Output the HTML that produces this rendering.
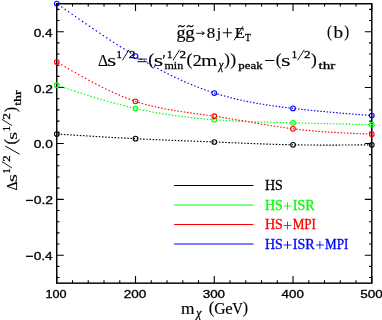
<!DOCTYPE html>
<html><head><meta charset="utf-8"><title>plot</title>
<style>html,body{margin:0;padding:0;background:#fff;overflow:hidden;}svg{display:block;will-change:transform;}text{font-family:"Liberation Serif", serif;fill:#000;stroke:#000;stroke-width:0.15px;}.s{stroke-width:0.08px;}.t{font-family:"Liberation Sans", sans-serif;stroke-width:0.32px;}.b{stroke-width:0.28px;}.i{font-style:italic;stroke-width:0.3px;}.l{stroke-width:0.3px;}</style></head>
<body>
<svg width="382" height="320" viewBox="0 0 382 320">
<rect x="0" y="0" width="382" height="320" fill="#ffffff"/>
<rect x="56.75" y="3.75" width="315.05" height="279.40" fill="none" stroke="#000" stroke-width="1.45"/>
<path d="M56.75 283.1 v-7.2 M56.75 3.8 v7.2 M72.50 283.1 v-2.8 M72.50 3.8 v2.8 M88.25 283.1 v-2.8 M88.25 3.8 v2.8 M104.01 283.1 v-2.8 M104.01 3.8 v2.8 M119.76 283.1 v-2.8 M119.76 3.8 v2.8 M135.51 283.1 v-7.2 M135.51 3.8 v7.2 M151.26 283.1 v-2.8 M151.26 3.8 v2.8 M167.02 283.1 v-2.8 M167.02 3.8 v2.8 M182.77 283.1 v-2.8 M182.77 3.8 v2.8 M198.52 283.1 v-2.8 M198.52 3.8 v2.8 M214.28 283.1 v-7.2 M214.28 3.8 v7.2 M230.03 283.1 v-2.8 M230.03 3.8 v2.8 M245.78 283.1 v-2.8 M245.78 3.8 v2.8 M261.53 283.1 v-2.8 M261.53 3.8 v2.8 M277.28 283.1 v-2.8 M277.28 3.8 v2.8 M293.04 283.1 v-7.2 M293.04 3.8 v7.2 M308.79 283.1 v-2.8 M308.79 3.8 v2.8 M324.54 283.1 v-2.8 M324.54 3.8 v2.8 M340.30 283.1 v-2.8 M340.30 3.8 v2.8 M356.05 283.1 v-2.8 M356.05 3.8 v2.8 M371.80 283.1 v-7.2 M371.80 3.8 v7.2 M56.8 277.56 h2.7 M371.8 277.56 h-2.7 M56.8 266.39 h2.7 M371.8 266.39 h-2.7 M56.8 255.21 h7.0 M371.8 255.21 h-7.0 M56.8 244.03 h2.7 M371.8 244.03 h-2.7 M56.8 232.86 h2.7 M371.8 232.86 h-2.7 M56.8 221.68 h2.7 M371.8 221.68 h-2.7 M56.8 210.51 h2.7 M371.8 210.51 h-2.7 M56.8 199.33 h7.0 M371.8 199.33 h-7.0 M56.8 188.15 h2.7 M371.8 188.15 h-2.7 M56.8 176.98 h2.7 M371.8 176.98 h-2.7 M56.8 165.80 h2.7 M371.8 165.80 h-2.7 M56.8 154.63 h2.7 M371.8 154.63 h-2.7 M56.8 143.45 h7.0 M371.8 143.45 h-7.0 M56.8 132.27 h2.7 M371.8 132.27 h-2.7 M56.8 121.10 h2.7 M371.8 121.10 h-2.7 M56.8 109.92 h2.7 M371.8 109.92 h-2.7 M56.8 98.75 h2.7 M371.8 98.75 h-2.7 M56.8 87.57 h7.0 M371.8 87.57 h-7.0 M56.8 76.39 h2.7 M371.8 76.39 h-2.7 M56.8 65.22 h2.7 M371.8 65.22 h-2.7 M56.8 54.04 h2.7 M371.8 54.04 h-2.7 M56.8 42.87 h2.7 M371.8 42.87 h-2.7 M56.8 31.69 h7.0 M371.8 31.69 h-7.0 M56.8 20.51 h2.7 M371.8 20.51 h-2.7 M56.8 9.34 h2.7 M371.8 9.34 h-2.7" stroke="#000" stroke-width="1.1" fill="none"/>
<path d="M57.60 134.06 L59.10 134.15 M60.77 134.26 L62.27 134.36 M63.94 134.46 L65.44 134.56 M67.11 134.67 L68.61 134.76 M70.28 134.87 L71.78 134.97 M73.45 135.08 L74.95 135.17 M76.62 135.28 L78.12 135.37 M79.79 135.48 L81.28 135.57 M82.96 135.68 L84.45 135.77 M86.13 135.88 L87.62 135.97 M89.29 136.08 L90.79 136.17 M92.46 136.27 L93.96 136.36 M95.63 136.47 L97.13 136.56 M98.80 136.66 L100.30 136.75 M101.97 136.85 L103.46 136.94 M105.13 137.04 L106.63 137.12 M108.30 137.22 L109.80 137.31 M111.47 137.41 L112.96 137.49 M114.63 137.59 L116.13 137.67 M117.80 137.76 L119.30 137.85 M120.96 137.94 L122.46 138.02 M124.13 138.11 L125.63 138.19 M127.29 138.28 L128.79 138.36 M130.46 138.44 L131.96 138.52 M133.62 138.61 L135.12 138.68 M136.78 138.76 L138.28 138.84 M139.95 138.92 L141.44 138.99 M143.11 139.07 L144.61 139.14 M146.27 139.22 L147.77 139.28 M149.43 139.36 L150.93 139.43 M152.59 139.50 L154.09 139.57 M155.75 139.64 L157.25 139.70 M158.91 139.78 L160.41 139.84 M162.07 139.91 L163.57 139.97 M165.23 140.04 L166.73 140.10 M168.39 140.17 L169.89 140.23 M171.55 140.30 L173.05 140.36 M174.71 140.43 L176.21 140.49 M177.86 140.56 L179.36 140.62 M181.02 140.68 L182.52 140.74 M184.18 140.81 L185.68 140.87 M187.34 140.93 L188.84 140.99 M190.50 141.05 L192.00 141.11 M193.66 141.18 L195.15 141.24 M196.81 141.30 L198.31 141.36 M199.97 141.43 L201.47 141.49 M203.13 141.55 L204.63 141.61 M206.29 141.68 L207.79 141.74 M209.45 141.80 L210.94 141.86 M212.60 141.93 L214.10 141.99 M215.76 142.06 L217.26 142.12 M218.92 142.19 L220.42 142.25 M222.08 142.32 L223.58 142.39 M225.24 142.46 L226.74 142.52 M228.40 142.59 L229.90 142.65 M231.56 142.72 L233.06 142.78 M234.72 142.85 L236.22 142.92 M237.88 142.98 L239.38 143.05 M241.04 143.12 L242.53 143.18 M244.19 143.24 L245.69 143.30 M247.35 143.37 L248.85 143.43 M250.51 143.50 L252.01 143.55 M253.67 143.62 L255.17 143.68 M256.83 143.74 L258.33 143.79 M259.98 143.86 L261.48 143.91 M263.14 143.97 L264.64 144.02 M266.30 144.08 L267.80 144.13 M269.45 144.18 L270.95 144.23 M272.61 144.28 L274.11 144.33 M275.76 144.38 L277.26 144.42 M278.91 144.47 L280.41 144.51 M282.07 144.55 L283.57 144.59 M285.22 144.63 L286.72 144.67 M288.37 144.70 L289.87 144.74 M291.52 144.77 L293.02 144.80 M294.67 144.83 L296.17 144.86 M297.82 144.88 L299.32 144.90 M300.96 144.93 L302.46 144.95 M304.11 144.97 L305.61 144.98 M307.25 145.00 L308.75 145.01 M310.40 145.03 L311.90 145.04 M313.54 145.05 L315.04 145.06 M316.68 145.06 L318.18 145.07 M319.82 145.08 L321.32 145.08 M322.97 145.08 L324.47 145.08 M326.11 145.08 L327.61 145.08 M329.25 145.08 L330.75 145.08 M332.39 145.08 L333.89 145.07 M335.53 145.07 L337.03 145.06 M338.67 145.06 L340.17 145.05 M341.81 145.04 L343.31 145.03 M344.95 145.02 L346.45 145.01 M348.10 145.00 L349.60 144.99 M351.24 144.98 L352.74 144.97 M354.38 144.96 L355.88 144.94 M357.53 144.93 L359.03 144.92 M360.67 144.90 L362.17 144.89 M363.82 144.87 L365.32 144.86 M366.96 144.85 L368.46 144.83 M370.10 144.82 L371.60 144.80" fill="none" stroke="#000000" stroke-width="1.15"/>
<circle cx="56.8" cy="134.0" r="2.35" fill="none" stroke="#000000" stroke-width="1.05"/>
<circle cx="135.5" cy="138.7" r="2.35" fill="none" stroke="#000000" stroke-width="1.05"/>
<circle cx="214.3" cy="142.0" r="2.35" fill="none" stroke="#000000" stroke-width="1.05"/>
<circle cx="293.0" cy="144.8" r="2.35" fill="none" stroke="#000000" stroke-width="1.05"/>
<circle cx="371.8" cy="144.8" r="2.35" fill="none" stroke="#000000" stroke-width="1.05"/>
<path d="M57.64 85.49 L59.06 85.96 M60.93 86.58 L62.35 87.05 M64.22 87.66 L65.64 88.13 M67.51 88.74 L68.94 89.21 M70.80 89.82 L72.23 90.29 M74.09 90.89 L75.52 91.35 M77.38 91.96 L78.81 92.42 M80.66 93.01 L82.09 93.47 M83.95 94.06 L85.38 94.52 M87.24 95.10 L88.67 95.55 M90.52 96.13 L91.95 96.57 M93.80 97.14 L95.23 97.58 M97.08 98.14 L98.52 98.58 M100.36 99.13 L101.79 99.56 M103.63 100.10 L105.07 100.52 M106.91 101.05 L108.35 101.47 M110.18 101.99 L111.62 102.39 M113.44 102.90 L114.89 103.30 M116.71 103.80 L118.16 104.19 M119.97 104.67 L121.42 105.05 M123.23 105.52 L124.68 105.89 M126.49 106.34 L127.94 106.71 M129.74 107.14 L131.20 107.49 M132.99 107.92 L134.45 108.26 M136.23 108.66 L137.70 108.99 M139.47 109.38 L140.94 109.70 M142.71 110.07 L144.18 110.38 M145.95 110.74 L147.42 111.03 M149.18 111.38 L150.65 111.66 M152.40 111.99 L153.88 112.26 M155.63 112.58 L157.10 112.84 M158.85 113.14 L160.33 113.39 M162.06 113.68 L163.54 113.92 M165.28 114.20 L166.76 114.43 M168.49 114.69 L169.97 114.92 M171.70 115.17 L173.18 115.38 M174.90 115.62 L176.39 115.82 M178.10 116.05 L179.59 116.25 M181.30 116.46 L182.79 116.65 M184.50 116.86 L185.99 117.03 M187.69 117.23 L189.18 117.40 M190.88 117.59 L192.38 117.75 M194.07 117.92 L195.57 118.08 M197.26 118.25 L198.75 118.39 M200.44 118.55 L201.94 118.69 M203.63 118.84 L205.12 118.97 M206.81 119.11 L208.30 119.24 M209.98 119.37 L211.48 119.49 M213.16 119.62 L214.65 119.73 M216.33 119.85 L217.83 119.95 M219.50 120.07 L221.00 120.17 M222.67 120.27 L224.17 120.37 M225.84 120.47 L227.34 120.55 M229.01 120.65 L230.51 120.73 M232.17 120.82 L233.67 120.90 M235.34 120.98 L236.84 121.06 M238.50 121.13 L240.00 121.20 M241.66 121.28 L243.16 121.34 M244.82 121.41 L246.32 121.47 M247.98 121.54 L249.48 121.59 M251.14 121.66 L252.64 121.71 M254.29 121.77 L255.79 121.82 M257.45 121.87 L258.95 121.92 M260.60 121.97 L262.10 122.02 M263.76 122.07 L265.26 122.11 M266.91 122.16 L268.41 122.20 M270.06 122.25 L271.56 122.29 M273.22 122.33 L274.72 122.37 M276.37 122.41 L277.87 122.44 M279.52 122.48 L281.02 122.52 M282.67 122.56 L284.17 122.59 M285.82 122.63 L287.32 122.67 M288.97 122.71 L290.47 122.74 M292.12 122.78 L293.62 122.81 M295.27 122.85 L296.77 122.89 M298.42 122.92 L299.92 122.96 M301.57 123.00 L303.07 123.03 M304.72 123.07 L306.22 123.11 M307.87 123.15 L309.37 123.18 M311.03 123.22 L312.53 123.26 M314.18 123.30 L315.68 123.33 M317.33 123.37 L318.83 123.41 M320.48 123.45 L321.98 123.48 M323.63 123.52 L325.13 123.56 M326.78 123.60 L328.28 123.63 M329.93 123.67 L331.43 123.71 M333.08 123.75 L334.58 123.79 M336.23 123.83 L337.73 123.86 M339.39 123.90 L340.88 123.94 M342.54 123.98 L344.04 124.02 M345.69 124.06 L347.19 124.09 M348.84 124.14 L350.34 124.17 M351.99 124.21 L353.49 124.25 M355.14 124.29 L356.64 124.33 M358.29 124.37 L359.79 124.40 M361.44 124.44 L362.94 124.48 M364.59 124.52 L366.09 124.56 M367.75 124.60 L369.25 124.64 M370.90 124.68 L372.40 124.71" fill="none" stroke="#00ff00" stroke-width="1.15"/>
<circle cx="56.8" cy="85.2" r="2.35" fill="none" stroke="#00ff00" stroke-width="1.05"/>
<circle cx="135.5" cy="108.5" r="2.35" fill="none" stroke="#00ff00" stroke-width="1.05"/>
<circle cx="214.3" cy="119.7" r="2.35" fill="none" stroke="#00ff00" stroke-width="1.05"/>
<circle cx="293.0" cy="122.8" r="2.35" fill="none" stroke="#00ff00" stroke-width="1.05"/>
<circle cx="371.8" cy="124.7" r="2.35" fill="none" stroke="#00ff00" stroke-width="1.05"/>
<path d="M57.70 62.55 L59.00 63.31 M61.11 64.53 L62.41 65.29 M64.51 66.51 L65.81 67.26 M67.92 68.48 L69.22 69.22 M71.32 70.43 L72.62 71.18 M74.72 72.37 L76.03 73.11 M78.12 74.30 L79.43 75.03 M81.52 76.20 L82.83 76.93 M84.91 78.08 L86.22 78.80 M88.30 79.93 L89.62 80.64 M91.68 81.75 L93.01 82.45 M95.06 83.53 L96.39 84.22 M98.44 85.28 L99.78 85.96 M101.81 86.99 L103.15 87.65 M105.17 88.65 L106.52 89.30 M108.53 90.27 L109.89 90.91 M111.89 91.83 L113.25 92.46 M115.23 93.35 L116.60 93.95 M118.57 94.81 L119.95 95.39 M121.90 96.21 L123.29 96.77 M125.22 97.55 L126.62 98.09 M128.54 98.82 L129.94 99.35 M131.84 100.03 L133.26 100.53 M135.14 101.18 L136.56 101.65 M138.43 102.25 L139.86 102.70 M141.71 103.25 L143.15 103.68 M144.98 104.19 L146.43 104.59 M148.24 105.08 L149.69 105.45 M151.50 105.90 L152.96 106.26 M154.75 106.68 L156.21 107.01 M157.99 107.41 L159.46 107.72 M161.23 108.09 L162.70 108.39 M164.46 108.73 L165.93 109.02 M167.68 109.34 L169.16 109.61 M170.91 109.92 L172.38 110.17 M174.12 110.46 L175.60 110.70 M177.34 110.98 L178.82 111.21 M180.55 111.48 L182.03 111.70 M183.76 111.96 L185.24 112.17 M186.96 112.42 L188.45 112.63 M190.17 112.87 L191.65 113.07 M193.37 113.31 L194.86 113.51 M196.57 113.74 L198.06 113.94 M199.77 114.18 L201.26 114.38 M202.98 114.61 L204.46 114.81 M206.18 115.05 L207.67 115.26 M209.38 115.50 L210.87 115.71 M212.59 115.95 L214.07 116.17 M215.80 116.43 L217.28 116.65 M219.01 116.91 L220.49 117.14 M222.22 117.41 L223.70 117.65 M225.43 117.93 L226.91 118.17 M228.65 118.45 L230.13 118.70 M231.86 118.99 L233.34 119.24 M235.08 119.53 L236.56 119.78 M238.30 120.08 L239.77 120.33 M241.51 120.63 L242.99 120.88 M244.73 121.18 L246.21 121.44 M247.95 121.74 L249.43 122.00 M251.17 122.30 L252.65 122.55 M254.39 122.85 L255.87 123.11 M257.61 123.40 L259.09 123.65 M260.83 123.95 L262.31 124.20 M264.04 124.49 L265.52 124.73 M267.26 125.02 L268.74 125.26 M270.47 125.54 L271.96 125.78 M273.69 126.05 L275.17 126.28 M276.90 126.55 L278.38 126.77 M280.11 127.03 L281.59 127.25 M283.31 127.50 L284.80 127.71 M286.52 127.95 L288.00 128.15 M289.72 128.38 L291.21 128.57 M292.92 128.79 L294.41 128.97 M296.11 129.17 L297.60 129.35 M299.31 129.54 L300.80 129.70 M302.50 129.89 L303.99 130.04 M305.68 130.21 L307.18 130.36 M308.87 130.52 L310.36 130.66 M312.05 130.81 L313.55 130.94 M315.23 131.09 L316.73 131.21 M318.41 131.35 L319.90 131.46 M321.58 131.59 L323.08 131.70 M324.76 131.82 L326.25 131.92 M327.93 132.04 L329.43 132.14 M331.10 132.24 L332.60 132.34 M334.27 132.44 L335.77 132.53 M337.44 132.62 L338.93 132.71 M340.60 132.80 L342.10 132.88 M343.77 132.96 L345.26 133.04 M346.93 133.12 L348.43 133.19 M350.09 133.27 L351.59 133.34 M353.25 133.42 L354.75 133.49 M356.41 133.56 L357.91 133.62 M359.57 133.70 L361.07 133.76 M362.73 133.83 L364.23 133.89 M365.89 133.96 L367.39 134.02 M369.05 134.09 L370.55 134.15" fill="none" stroke="#ff0000" stroke-width="1.15"/>
<circle cx="56.8" cy="62.0" r="2.35" fill="none" stroke="#ff0000" stroke-width="1.05"/>
<circle cx="135.5" cy="101.3" r="2.35" fill="none" stroke="#ff0000" stroke-width="1.05"/>
<circle cx="214.3" cy="116.2" r="2.35" fill="none" stroke="#ff0000" stroke-width="1.05"/>
<circle cx="293.0" cy="128.8" r="2.35" fill="none" stroke="#ff0000" stroke-width="1.05"/>
<circle cx="371.8" cy="134.2" r="2.35" fill="none" stroke="#ff0000" stroke-width="1.05"/>
<path d="M57.74 4.19 L58.96 5.05 M61.20 6.62 L62.43 7.48 M64.66 9.05 L65.89 9.91 M68.12 11.47 L69.35 12.33 M71.58 13.88 L72.81 14.74 M75.04 16.30 L76.27 17.15 M78.50 18.70 L79.73 19.55 M81.95 21.09 L83.19 21.94 M85.41 23.47 L86.64 24.32 M88.86 25.84 L90.10 26.69 M92.31 28.20 L93.56 29.04 M95.76 30.54 L97.01 31.38 M99.21 32.86 L100.46 33.69 M102.66 35.16 L103.91 35.99 M106.10 37.44 L107.35 38.27 M109.54 39.71 L110.80 40.53 M112.98 41.95 L114.24 42.76 M116.41 44.16 L117.68 44.97 M119.85 46.35 L121.11 47.15 M123.27 48.51 L124.54 49.30 M126.70 50.64 L127.97 51.43 M130.12 52.74 L131.40 53.52 M133.53 54.82 L134.82 55.59 M136.95 56.85 L138.24 57.62 M140.36 58.86 L141.65 59.61 M143.76 60.83 L145.06 61.57 M147.16 62.76 L148.47 63.50 M150.55 64.66 L151.87 65.39 M153.94 66.52 L155.26 67.24 M157.33 68.35 L158.65 69.05 M160.71 70.13 L162.04 70.82 M164.09 71.88 L165.42 72.56 M167.46 73.58 L168.80 74.25 M170.82 75.25 L172.17 75.91 M174.18 76.87 L175.54 77.52 M177.54 78.46 L178.90 79.09 M180.89 80.00 L182.25 80.61 M184.23 81.49 L185.60 82.10 M187.57 82.95 L188.95 83.54 M190.90 84.36 L192.29 84.93 M194.23 85.72 L195.62 86.28 M197.55 87.04 L198.95 87.58 M200.86 88.31 L202.27 88.84 M204.17 89.54 L205.58 90.05 M207.47 90.72 L208.89 91.21 M210.77 91.85 L212.19 92.32 M214.06 92.93 L215.49 93.39 M217.34 93.97 L218.78 94.40 M220.62 94.95 L222.06 95.37 M223.89 95.89 L225.33 96.30 M227.16 96.79 L228.60 97.18 M230.42 97.65 L231.87 98.02 M233.67 98.47 L235.13 98.82 M236.92 99.24 L238.38 99.58 M240.16 99.99 L241.63 100.31 M243.40 100.69 L244.87 101.00 M246.64 101.37 L248.11 101.67 M249.87 102.01 L251.34 102.30 M253.10 102.63 L254.57 102.90 M256.32 103.21 L257.80 103.47 M259.54 103.77 L261.02 104.02 M262.76 104.30 L264.24 104.54 M265.97 104.81 L267.45 105.04 M269.18 105.30 L270.66 105.52 M272.39 105.77 L273.87 105.98 M275.59 106.22 L277.08 106.42 M278.79 106.65 L280.28 106.84 M281.99 107.06 L283.48 107.25 M285.19 107.47 L286.68 107.65 M288.38 107.85 L289.87 108.03 M291.58 108.23 L293.07 108.40 M294.77 108.60 L296.26 108.77 M297.96 108.96 L299.45 109.12 M301.15 109.31 L302.64 109.47 M304.34 109.65 L305.83 109.80 M307.53 109.98 L309.02 110.13 M310.72 110.30 L312.21 110.45 M313.90 110.62 L315.40 110.77 M317.09 110.93 L318.58 111.08 M320.27 111.24 L321.77 111.38 M323.46 111.54 L324.95 111.67 M326.64 111.83 L328.13 111.97 M329.82 112.12 L331.31 112.25 M333.00 112.40 L334.49 112.53 M336.18 112.68 L337.67 112.81 M339.36 112.95 L340.85 113.08 M342.54 113.22 L344.03 113.35 M345.72 113.49 L347.21 113.61 M348.90 113.75 L350.39 113.88 M352.07 114.02 L353.57 114.14 M355.25 114.27 L356.75 114.40 M358.43 114.53 L359.92 114.65 M361.60 114.79 L363.10 114.91 M364.78 115.04 L366.28 115.16 M367.96 115.29 L369.45 115.41" fill="none" stroke="#0000ff" stroke-width="1.15"/>
<circle cx="56.8" cy="3.5" r="2.35" fill="none" stroke="#0000ff" stroke-width="1.05"/>
<circle cx="135.5" cy="56.0" r="2.35" fill="none" stroke="#0000ff" stroke-width="1.05"/>
<circle cx="214.3" cy="93.0" r="2.35" fill="none" stroke="#0000ff" stroke-width="1.05"/>
<circle cx="293.0" cy="108.4" r="2.35" fill="none" stroke="#0000ff" stroke-width="1.05"/>
<circle cx="371.8" cy="115.6" r="2.35" fill="none" stroke="#0000ff" stroke-width="1.05"/>
<text x="45.59" y="298.30" font-size="11.60" textLength="21.04" lengthAdjust="spacingAndGlyphs" class="t">100</text>
<text x="123.74" y="298.30" font-size="11.60" textLength="22.60" lengthAdjust="spacingAndGlyphs" class="t">200</text>
<text x="202.66" y="298.30" font-size="11.60" textLength="22.43" lengthAdjust="spacingAndGlyphs" class="t">300</text>
<text x="281.64" y="298.30" font-size="11.60" textLength="22.20" lengthAdjust="spacingAndGlyphs" class="t">400</text>
<text x="360.16" y="298.30" font-size="11.60" textLength="22.46" lengthAdjust="spacingAndGlyphs" class="t">500</text>
<text x="33.67" y="36.69" font-size="11.60" textLength="19.03" lengthAdjust="spacingAndGlyphs" class="t">0.4</text>
<text x="33.66" y="92.57" font-size="11.60" textLength="19.34" lengthAdjust="spacingAndGlyphs" class="t">0.2</text>
<text x="33.66" y="148.45" font-size="11.60" textLength="19.16" lengthAdjust="spacingAndGlyphs" class="t">0.0</text>
<text x="33.66" y="204.33" font-size="11.60" textLength="19.34" lengthAdjust="spacingAndGlyphs" class="t">0.2</text>
<path d="M26.00 200.43 L33.00 200.43" stroke="#000" stroke-width="1.30" fill="none"/>
<text x="33.67" y="260.21" font-size="11.60" textLength="19.03" lengthAdjust="spacingAndGlyphs" class="t">0.4</text>
<path d="M26.00 256.31 L33.00 256.31" stroke="#000" stroke-width="1.30" fill="none"/>
<path d="M174 185.5 H253.5" stroke="#000" stroke-width="1"/>
<text x="264.91" y="190.40" font-size="13.90" textLength="17.95" lengthAdjust="spacingAndGlyphs" class="l" style="fill:#000;stroke:#000">HS</text>
<path d="M174 205.0 H253.5" stroke="#00ff00" stroke-width="1"/>
<text x="264.91" y="209.90" font-size="13.90" textLength="17.95" lengthAdjust="spacingAndGlyphs" class="l" style="fill:#00ff00;stroke:#00ff00">HS</text>
<path d="M283.60 206.00 H291.40 M287.50 202.10 V209.90" stroke="#00ff00" stroke-width="0.90" fill="none"/>
<text x="292.69" y="209.90" font-size="13.90" textLength="21.92" lengthAdjust="spacingAndGlyphs" class="l" style="fill:#00ff00;stroke:#00ff00">ISR</text>
<path d="M174 224.5 H253.5" stroke="#ff0000" stroke-width="1"/>
<text x="264.91" y="229.40" font-size="13.90" textLength="17.95" lengthAdjust="spacingAndGlyphs" class="l" style="fill:#ff0000;stroke:#ff0000">HS</text>
<path d="M283.60 225.50 H291.40 M287.50 221.60 V229.40" stroke="#ff0000" stroke-width="0.90" fill="none"/>
<text x="292.63" y="229.40" font-size="13.90" textLength="23.23" lengthAdjust="spacingAndGlyphs" class="l" style="fill:#ff0000;stroke:#ff0000">MPI</text>
<path d="M174 244.0 H253.5" stroke="#0000ff" stroke-width="1"/>
<text x="264.91" y="248.90" font-size="13.90" textLength="17.95" lengthAdjust="spacingAndGlyphs" class="l" style="fill:#0000ff;stroke:#0000ff">HS</text>
<path d="M283.60 245.00 H291.40 M287.50 241.10 V248.90" stroke="#0000ff" stroke-width="0.90" fill="none"/>
<text x="292.69" y="248.90" font-size="13.90" textLength="21.92" lengthAdjust="spacingAndGlyphs" class="l" style="fill:#0000ff;stroke:#0000ff">ISR</text>
<path d="M316.00 245.00 H323.80 M319.90 241.10 V248.90" stroke="#0000ff" stroke-width="0.90" fill="none"/>
<text x="325.03" y="248.90" font-size="13.90" textLength="23.33" lengthAdjust="spacingAndGlyphs" class="l" style="fill:#0000ff;stroke:#0000ff">MPI</text>
<text x="176.54" y="37.50" font-size="16.20" textLength="9.00" lengthAdjust="spacingAndGlyphs">g</text>
<text x="185.31" y="37.50" font-size="16.20" textLength="9.45" lengthAdjust="spacingAndGlyphs">g</text>
<path d="M178.1 27.2 q1.6 -2.4 3.3 -1.0 q1.7 1.4 3.3 -1.0" fill="none" stroke="#000" stroke-width="1.15"/>
<path d="M186.9 27.2 q1.6 -2.4 3.3 -1.0 q1.7 1.4 3.3 -1.0" fill="none" stroke="#000" stroke-width="1.15"/>
<path d="M196.1 33.3 H204.2 M201.7 31.5 L204.4 33.3 L201.7 35.1" fill="none" stroke="#000" stroke-width="0.9"/>
<text x="206.65" y="37.70" font-size="14.60" textLength="8.49" lengthAdjust="spacingAndGlyphs">8</text>
<text x="216.40" y="37.70" font-size="15.30" textLength="4.78" lengthAdjust="spacingAndGlyphs">j</text>
<path d="M222.70 32.80 L232.10 32.80" stroke="#000" stroke-width="0.95" fill="none"/>
<path d="M227.40 28.10 L227.40 37.50" stroke="#000" stroke-width="0.95" fill="none"/>
<text x="234.83" y="37.70" font-size="15.00" textLength="10.18" lengthAdjust="spacingAndGlyphs">E</text>
<path d="M234.10 40.30 L243.00 26.30" stroke="#000" stroke-width="0.95" fill="none"/>
<text x="244.93" y="41.20" font-size="10.70" textLength="5.82" lengthAdjust="spacingAndGlyphs" class="b">T</text>
<text x="326.97" y="36.90" font-size="16.90" textLength="4.90" lengthAdjust="spacingAndGlyphs">(</text>
<text x="333.60" y="37.70" font-size="16.50" textLength="9.63" lengthAdjust="spacingAndGlyphs">b</text>
<text x="344.23" y="36.90" font-size="16.90" textLength="4.90" lengthAdjust="spacingAndGlyphs">)</text>
<text x="97.90" y="65.70" font-size="16.20" textLength="10.08" lengthAdjust="spacingAndGlyphs">Δ</text>
<text x="107.26" y="65.70" font-size="16.00" textLength="8.95" lengthAdjust="spacingAndGlyphs" class="s">s</text>
<text x="116.46" y="58.00" font-size="9.80" textLength="5.38" lengthAdjust="spacingAndGlyphs" class="b">1</text>
<path d="M122.40 60.30 L129.00 49.80" stroke="#000" stroke-width="0.90" fill="none"/>
<text x="128.83" y="58.00" font-size="9.80" textLength="6.59" lengthAdjust="spacingAndGlyphs" class="b">2</text>
<path d="M137.40 59.10 L146.80 59.10" stroke="#000" stroke-width="0.95" fill="none"/>
<path d="M137.40 61.70 L146.80 61.70" stroke="#000" stroke-width="0.95" fill="none"/>
<text x="148.33" y="64.70" font-size="16.90" textLength="5.94" lengthAdjust="spacingAndGlyphs">(</text>
<text x="153.80" y="65.70" font-size="16.00" textLength="9.45" lengthAdjust="spacingAndGlyphs" class="s">s</text>
<text x="162.19" y="65.70" font-size="16.00" textLength="3.62" lengthAdjust="spacingAndGlyphs" class="s">′</text>
<text x="167.06" y="58.00" font-size="9.80" textLength="5.38" lengthAdjust="spacingAndGlyphs" class="b">1</text>
<path d="M173.00 60.30 L179.60 49.80" stroke="#000" stroke-width="0.90" fill="none"/>
<text x="179.43" y="58.00" font-size="9.80" textLength="6.59" lengthAdjust="spacingAndGlyphs" class="b">2</text>
<text x="164.45" y="68.60" font-size="11.00" textLength="18.73" lengthAdjust="spacingAndGlyphs" class="b">min</text>
<text x="186.63" y="64.70" font-size="16.90" textLength="5.94" lengthAdjust="spacingAndGlyphs">(</text>
<text x="192.72" y="65.70" font-size="16.20" textLength="9.08" lengthAdjust="spacingAndGlyphs">2</text>
<text x="201.06" y="65.70" font-size="16.00" textLength="16.25" lengthAdjust="spacingAndGlyphs" class="s">m</text>
<text x="218.87" y="68.70" font-size="13.00" textLength="4.71" lengthAdjust="spacingAndGlyphs" class="i">χ</text>
<text x="224.35" y="64.70" font-size="16.90" textLength="5.68" lengthAdjust="spacingAndGlyphs">)</text>
<text x="230.23" y="64.70" font-size="16.90" textLength="5.94" lengthAdjust="spacingAndGlyphs">)</text>
<text x="238.29" y="68.60" font-size="11.00" textLength="24.30" lengthAdjust="spacingAndGlyphs" class="b">peak</text>
<path d="M265.10 60.50 L274.50 60.50" stroke="#000" stroke-width="0.95" fill="none"/>
<text x="275.87" y="64.70" font-size="16.90" textLength="5.68" lengthAdjust="spacingAndGlyphs">(</text>
<text x="281.09" y="65.70" font-size="16.00" textLength="9.57" lengthAdjust="spacingAndGlyphs" class="s">s</text>
<text x="291.66" y="58.00" font-size="9.80" textLength="5.38" lengthAdjust="spacingAndGlyphs" class="b">1</text>
<path d="M297.60 60.30 L304.20 49.80" stroke="#000" stroke-width="0.90" fill="none"/>
<text x="304.03" y="58.00" font-size="9.80" textLength="6.59" lengthAdjust="spacingAndGlyphs" class="b">2</text>
<text x="311.14" y="64.70" font-size="16.90" textLength="5.81" lengthAdjust="spacingAndGlyphs">)</text>
<text x="318.46" y="68.60" font-size="10.80" textLength="16.75" lengthAdjust="spacingAndGlyphs" class="b">thr</text>
<text x="181.13" y="313.70" font-size="16.00" textLength="13.52" lengthAdjust="spacingAndGlyphs">m</text>
<text x="196.24" y="316.60" font-size="12.00" textLength="5.11" lengthAdjust="spacingAndGlyphs" class="i">χ</text>
<text x="208.68" y="313.40" font-size="16.00" textLength="5.55" lengthAdjust="spacingAndGlyphs">(</text>
<text x="214.26" y="313.70" font-size="16.00" textLength="11.33" lengthAdjust="spacingAndGlyphs">G</text>
<text x="225.25" y="313.70" font-size="16.00" textLength="7.42" lengthAdjust="spacingAndGlyphs">e</text>
<text x="232.24" y="313.70" font-size="16.00" textLength="10.63" lengthAdjust="spacingAndGlyphs">V</text>
<text x="242.69" y="313.40" font-size="16.00" textLength="5.29" lengthAdjust="spacingAndGlyphs">)</text>
<g transform="translate(17.0,190.0) rotate(-90)">
<text x="-0.43" y="0.00" font-size="15.40" textLength="8.94" lengthAdjust="spacingAndGlyphs">Δ</text>
<text x="8.06" y="0.00" font-size="15.60" textLength="7.96" lengthAdjust="spacingAndGlyphs" class="s">s</text>
<text x="16.40" y="-7.30" font-size="9.41" textLength="5.17" lengthAdjust="spacingAndGlyphs" class="b">1</text>
<path d="M22.10 -5.09 L28.44 -15.17" stroke="#000" stroke-width="0.90" fill="none"/>
<text x="28.28" y="-7.30" font-size="9.41" textLength="6.33" lengthAdjust="spacingAndGlyphs" class="b">2</text>
<path d="M35.80 2.70 L43.90 -11.80" stroke="#000" stroke-width="0.95" fill="none"/>
<text x="45.40" y="-0.80" font-size="16.30" textLength="5.42" lengthAdjust="spacingAndGlyphs">(</text>
<text x="50.36" y="0.00" font-size="15.60" textLength="7.96" lengthAdjust="spacingAndGlyphs" class="s">s</text>
<text x="58.70" y="-7.30" font-size="9.41" textLength="5.17" lengthAdjust="spacingAndGlyphs" class="b">1</text>
<path d="M64.40 -5.09 L70.74 -15.17" stroke="#000" stroke-width="0.90" fill="none"/>
<text x="70.58" y="-7.30" font-size="9.41" textLength="6.33" lengthAdjust="spacingAndGlyphs" class="b">2</text>
<text x="77.78" y="-0.80" font-size="16.30" textLength="5.42" lengthAdjust="spacingAndGlyphs">)</text>
<text x="84.27" y="3.90" font-size="9.60" textLength="15.43" lengthAdjust="spacingAndGlyphs" class="b">thr</text>
</g>
</svg></body></html>
